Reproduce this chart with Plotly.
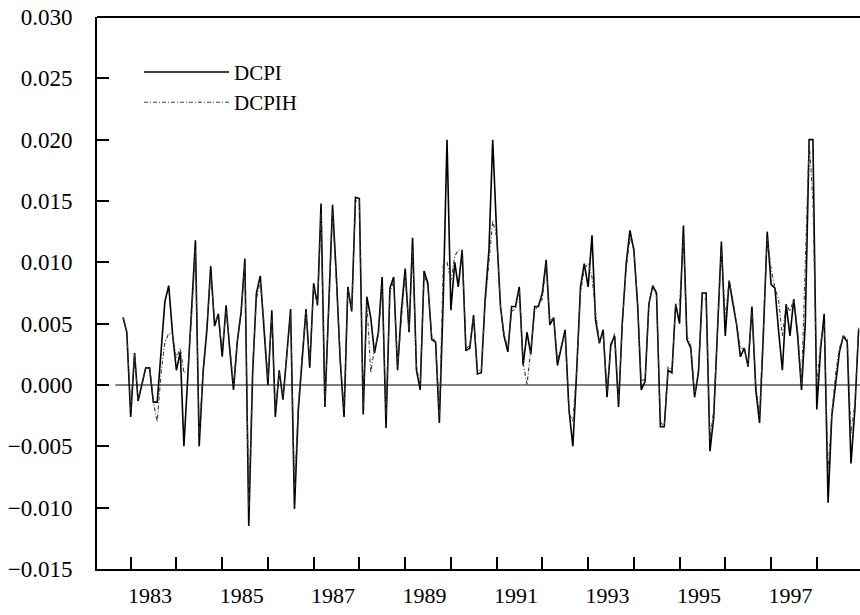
import pandas as pd
import plotly.graph_objects as go

# monthly observations, Nov 1982 - Dec 1998
months = pd.date_range("1982-11-01", periods=194, freq="MS")

dcpi = [
    0.0055, 0.0043,
    -0.0026, 0.0026, -0.0013, 0.0000, 0.0014, 0.0014, -0.0014, -0.0014, 0.0030, 0.0068, 0.0081, 0.0042,
    0.0012, 0.0027, -0.0050, 0.0005, 0.0060, 0.0118, -0.0050, 0.0010, 0.0045, 0.0097, 0.0048, 0.0058,
    0.0023, 0.0065, 0.0030, -0.0004, 0.0035, 0.0060, 0.0103, -0.0115, 0.0010, 0.0075, 0.0089, 0.0045,
    0.0000, 0.0061, -0.0026, 0.0012, -0.0012, 0.0025, 0.0062, -0.0101, -0.0020, 0.0020, 0.0062, 0.0014,
    0.0083, 0.0065, 0.0148, -0.0018, 0.0060, 0.0147, 0.0090, 0.0020, -0.0026, 0.0080, 0.0060, 0.0153,
    0.0152, -0.0024, 0.0072, 0.0055, 0.0026, 0.0043, 0.0088, -0.0035, 0.0079, 0.0088, 0.0012, 0.0060,
    0.0095, 0.0043, 0.0120, 0.0012, -0.0004, 0.0093, 0.0083, 0.0037, 0.0035, -0.0031, 0.0070, 0.0200,
    0.0061, 0.0100, 0.0080, 0.0110, 0.0028, 0.0030, 0.0057, 0.0009, 0.0010, 0.0069, 0.0110, 0.0200,
    0.0125, 0.0064, 0.0040, 0.0027, 0.0064, 0.0064, 0.0080, 0.0016, 0.0043, 0.0025, 0.0064, 0.0064,
    0.0075, 0.0102, 0.0049, 0.0055, 0.0016, 0.0032, 0.0045, -0.0020, -0.0050, 0.0010, 0.0080, 0.0099,
    0.0080, 0.0122, 0.0053, 0.0034, 0.0045, -0.0010, 0.0033, 0.0040, -0.0018, 0.0051, 0.0099, 0.0126,
    0.0110, 0.0064, -0.0004, 0.0003, 0.0066, 0.0081, 0.0075, -0.0034, -0.0034, 0.0012, 0.0010, 0.0066,
    0.0050, 0.0130, 0.0037, 0.0030, -0.0010, 0.0010, 0.0075, 0.0075, -0.0054, -0.0026, 0.0049, 0.0117,
    0.0040, 0.0085, 0.0067, 0.0049, 0.0023, 0.0030, 0.0015, 0.0064, -0.0004, -0.0031, 0.0043, 0.0125,
    0.0082, 0.0079, 0.0045, 0.0012, 0.0066, 0.0040, 0.0070, 0.0040, -0.0004, 0.0050, 0.0200, 0.0200,
    -0.0020, 0.0030, 0.0058, -0.0096, -0.0025, 0.0000, 0.0027, 0.0040, 0.0035, -0.0064, -0.0020, 0.0045,
]

dcpih = [
    0.0055, 0.0043,
    -0.0020, 0.0025, -0.0012, 0.0000, 0.0014, 0.0014, -0.0014, -0.0030, 0.0010, 0.0035, 0.0042, 0.0041,
    0.0022, 0.0030, 0.0010, 0.0012, 0.0055, 0.0110, -0.0040, 0.0012, 0.0050, 0.0090, 0.0052, 0.0055,
    0.0030, 0.0060, 0.0033, 0.0000, 0.0035, 0.0058, 0.0098, -0.0100, 0.0015, 0.0070, 0.0085, 0.0050,
    0.0005, 0.0055, -0.0020, 0.0010, -0.0010, 0.0028, 0.0058, -0.0085, -0.0015, 0.0025, 0.0060, 0.0018,
    0.0080, 0.0065, 0.0140, -0.0015, 0.0062, 0.0140, 0.0085, 0.0022, -0.0020, 0.0078, 0.0062, 0.0150,
    0.0150, -0.0018, 0.0068, 0.0010, 0.0030, 0.0040, 0.0080, -0.0025, 0.0075, 0.0085, 0.0015, 0.0055,
    0.0090, 0.0045, 0.0110, 0.0015, 0.0000, 0.0090, 0.0080, 0.0040, 0.0035, -0.0025, 0.0099, 0.0100,
    0.0085, 0.0105, 0.0110, 0.0110, 0.0030, 0.0032, 0.0055, 0.0012, 0.0012, 0.0065, 0.0100, 0.0134,
    0.0121, 0.0064, 0.0042, 0.0030, 0.0060, 0.0062, 0.0078, 0.0018, 0.0000, 0.0028, 0.0060, 0.0066,
    0.0070, 0.0098, 0.0052, 0.0055, 0.0020, 0.0032, 0.0042, -0.0023, -0.0030, 0.0012, 0.0075, 0.0095,
    0.0099, 0.0088, 0.0060, 0.0035, 0.0042, -0.0005, 0.0030, 0.0042, -0.0012, 0.0050, 0.0095, 0.0120,
    0.0112, 0.0066, 0.0003, 0.0005, 0.0066, 0.0081, 0.0072, -0.0030, -0.0034, 0.0015, 0.0012, 0.0066,
    0.0066, 0.0120, 0.0040, 0.0032, -0.0008, 0.0012, 0.0070, 0.0070, -0.0045, -0.0020, 0.0050, 0.0110,
    0.0055, 0.0085, 0.0070, 0.0050, 0.0030, 0.0030, 0.0015, 0.0060, 0.0000, -0.0025, 0.0045, 0.0120,
    0.0095, 0.0079, 0.0070, 0.0040, 0.0066, 0.0060, 0.0070, 0.0045, 0.0000, 0.0100, 0.0200, 0.0150,
    0.0000, 0.0035, 0.0050, -0.0070, -0.0023, 0.0010, 0.0030, 0.0040, 0.0038, -0.0040, -0.0015, 0.0047,
]

year_ticks = [f"{y}-01-01" for y in range(1983, 1999)]
label_years = [1983, 1985, 1987, 1989, 1991, 1993, 1995, 1997]
label_pos = [f"{y}-06-05" for y in label_years]
label_text = [str(y) for y in label_years]
y_ticks = [-0.015, -0.010, -0.005, 0.000, 0.005, 0.010, 0.015, 0.020, 0.025, 0.030]

FONT = "Liberation Serif"
X_RANGE = ["1982-04-07", "1998-12-12"]

fig = go.Figure()
fig.add_trace(go.Scatter(
    x=months, y=dcpi, name="DCPI", mode="lines",
    line=dict(color="black", width=1.6),
))
fig.add_trace(go.Scatter(
    x=months, y=dcpih, name="DCPIH", mode="lines",
    line=dict(color="#3a3a3a", width=1.1, dash="4px,2px,1px,2px"),
))
# invisible carrier for the year-boundary tick axis
fig.add_trace(go.Scatter(
    x=months, y=dcpi, xaxis="x2", mode="lines", showlegend=False,
    hoverinfo="skip", line=dict(color="rgba(0,0,0,0)", width=0),
))

fig.add_shape(type="line", xref="x", yref="y",
              x0="1982-09-01", x1="1999-01-01", y0=0, y1=0,
              line=dict(color="black", width=1.2), layer="below")
# top frame line
fig.add_shape(type="line", xref="paper", yref="paper",
              x0=0, x1=1, y0=1, y1=1, line=dict(color="black", width=2))

fig.update_layout(
    width=860, height=615,
    margin=dict(l=97, r=0, t=17, b=46),
    paper_bgcolor="white", plot_bgcolor="white",
    font=dict(family=FONT, size=22, color="black"),
    showlegend=True,
    legend=dict(x=0.055, y=0.937, xanchor="left", yanchor="top",
                bgcolor="rgba(0,0,0,0)", font=dict(family=FONT, size=21),
                itemwidth=85, tracegroupgap=0),
    xaxis=dict(
        type="date", range=X_RANGE,
        showgrid=False, zeroline=False,
        showline=True, linecolor="black", linewidth=2,
        tickmode="array", tickvals=label_pos, ticktext=label_text,
        ticks="", ticklabelstandoff=6, tickfont=dict(family=FONT, size=22),
    ),
    xaxis2=dict(
        type="date", range=X_RANGE, overlaying="x", anchor="y", side="bottom",
        showgrid=False, zeroline=False, showline=False,
        tickmode="array", tickvals=year_ticks, showticklabels=False,
        ticks="inside", ticklen=12, tickwidth=2, tickcolor="black",
    ),
    yaxis=dict(
        range=[-0.015, 0.030], showgrid=False, zeroline=False,
        showline=True, linecolor="black", linewidth=2,
        tickmode="array", tickvals=y_ticks, tickformat=".3f",
        ticks="inside", ticklen=12, tickwidth=2, tickcolor="black",
        ticklabelstandoff=18, tickfont=dict(family=FONT, size=23),
    ),
)

fig.write_html("out.html", config={"displayModeBar": False},
               post_script="document.body.style.margin='0';")
